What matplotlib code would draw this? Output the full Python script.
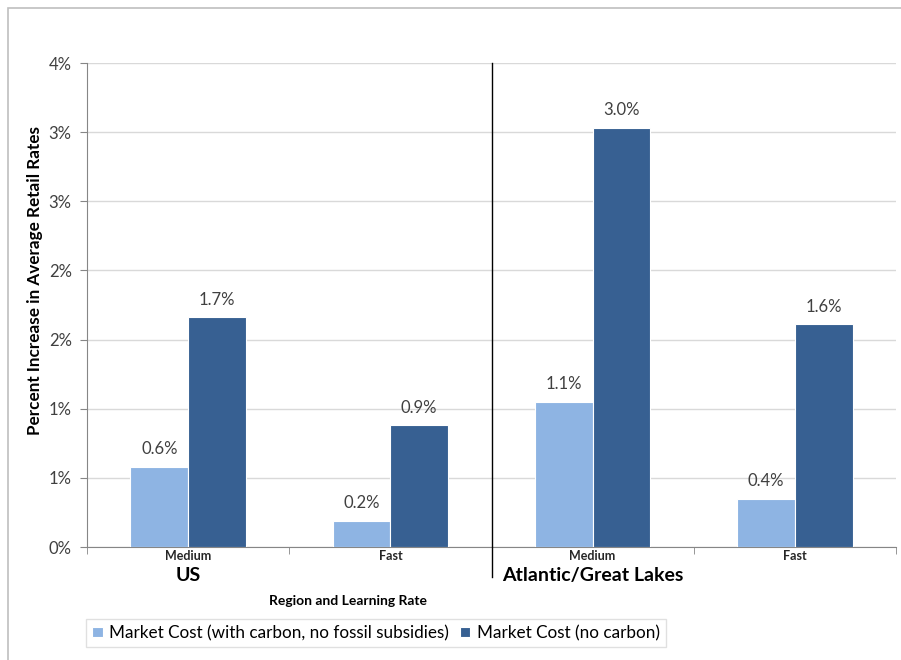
import matplotlib
matplotlib.use("Agg")
import matplotlib.pyplot as plt
from matplotlib.patches import Rectangle
import numpy as np

plt.rcParams['font.family'] = ['Lato', 'DejaVu Sans']

rates = ["Medium", "Fast", "Medium", "Fast"]
regions = ["US", "Atlantic/Great Lakes"]
series_names = ["Market Cost (with carbon, no fossil subsidies)", "Market Cost (no carbon)"]
with_carbon = [0.58, 0.19, 1.05, 0.35]
no_carbon = [1.66, 0.88, 3.03, 1.61]
yticks = [0, 0.5, 1.0, 1.5, 2.0, 2.5, 3.0, 3.5]
ytick_labels = ["0%", "1%", "1%", "2%", "2%", "3%", "3%", "4%"]
label_with = ["0.6%", "0.2%", "1.1%", "0.4%"]
label_no = ["1.7%", "0.9%", "3.0%", "1.6%"]

light = "#8EB4E3"
dark = "#376092"

W, H = 901, 660
fig = plt.figure(figsize=(W/100, H/100), dpi=100)
fig.patches.append(Rectangle((8/W, -0.1), 1.1, 1 - 8/H + 0.1, transform=fig.transFigure,
                             fill=False, edgecolor="#BFBFBF", linewidth=1.2))
ax = fig.add_axes([87/W, 1 - 547/H, (896-87)/W, (547-63)/H])

x = np.arange(len(rates))
bw = 0.285
ax.bar(x - bw/2, with_carbon, bw, color=light, edgecolor="white", linewidth=0.8,
       label=series_names[0], zorder=3)
ax.bar(x + bw/2, no_carbon, bw, color=dark, edgecolor="white", linewidth=0.8,
       label=series_names[1], zorder=3)

for i in range(len(rates)):
    ax.text(x[i] - bw/2, with_carbon[i] + 0.07, label_with[i], ha="center", va="bottom",
            fontsize=12, color="#404040")
    ax.text(x[i] + bw/2, no_carbon[i] + 0.07, label_no[i], ha="center", va="bottom",
            fontsize=12, color="#404040")

ax.set_xlim(-0.5, 3.5)
ax.set_ylim(0, 3.5)
ax.set_yticks(yticks)
ax.set_yticklabels(ytick_labels, fontsize=12, color="#404040")
ax.grid(axis="y", color="#D9D9D9", linewidth=1, zorder=0)
ax.set_axisbelow(True)

ax.set_xticks(x)
ax.set_xticklabels(rates, fontsize=9, fontweight="bold", color="#262626")
ax.set_xticks([-0.5, 0.5, 1.5, 2.5, 3.5], minor=True)
ax.tick_params(axis="x", which="major", length=0, pad=2)
ax.tick_params(axis="x", which="minor", length=5, color="#868686", direction="out")
ax.tick_params(axis="y", length=5, color="#868686", direction="out", pad=6)

for s in ["top", "right"]:
    ax.spines[s].set_visible(False)
ax.spines["left"].set_color("#868686")
ax.spines["bottom"].set_color("#868686")

# region labels
for j, reg in enumerate(regions):
    ax.text(2*j, -0.145, reg, transform=ax.transData,
            ha="center", va="top", fontsize=14, fontweight="bold", color="black")

# separator line
ax.plot([1.5, 1.5], [3.5, -0.22], color="black", linewidth=1, clip_on=False, zorder=4)

fig.text(348/W, 1 - 601/H, "Region and Learning Rate", ha="center", va="center",
         fontsize=10, fontweight="bold", color="black")
fig.text(35/W, 1 - 280/H, "Percent Increase in Average Retail Rates", ha="center",
         va="center", rotation=90, fontsize=12.3, fontweight="bold", color="black")

leg = fig.legend(loc="center", bbox_to_anchor=(376/W, 1 - 633/H), ncol=2, fontsize=12.3,
                 frameon=True, fancybox=False, edgecolor="#D9D9D9", handlelength=0.6,
                 handleheight=0.6, handletextpad=0.4, columnspacing=0.6, borderpad=0.35)
leg.get_frame().set_linewidth(1)

fig.savefig("out.png", dpi=100, facecolor="white")
